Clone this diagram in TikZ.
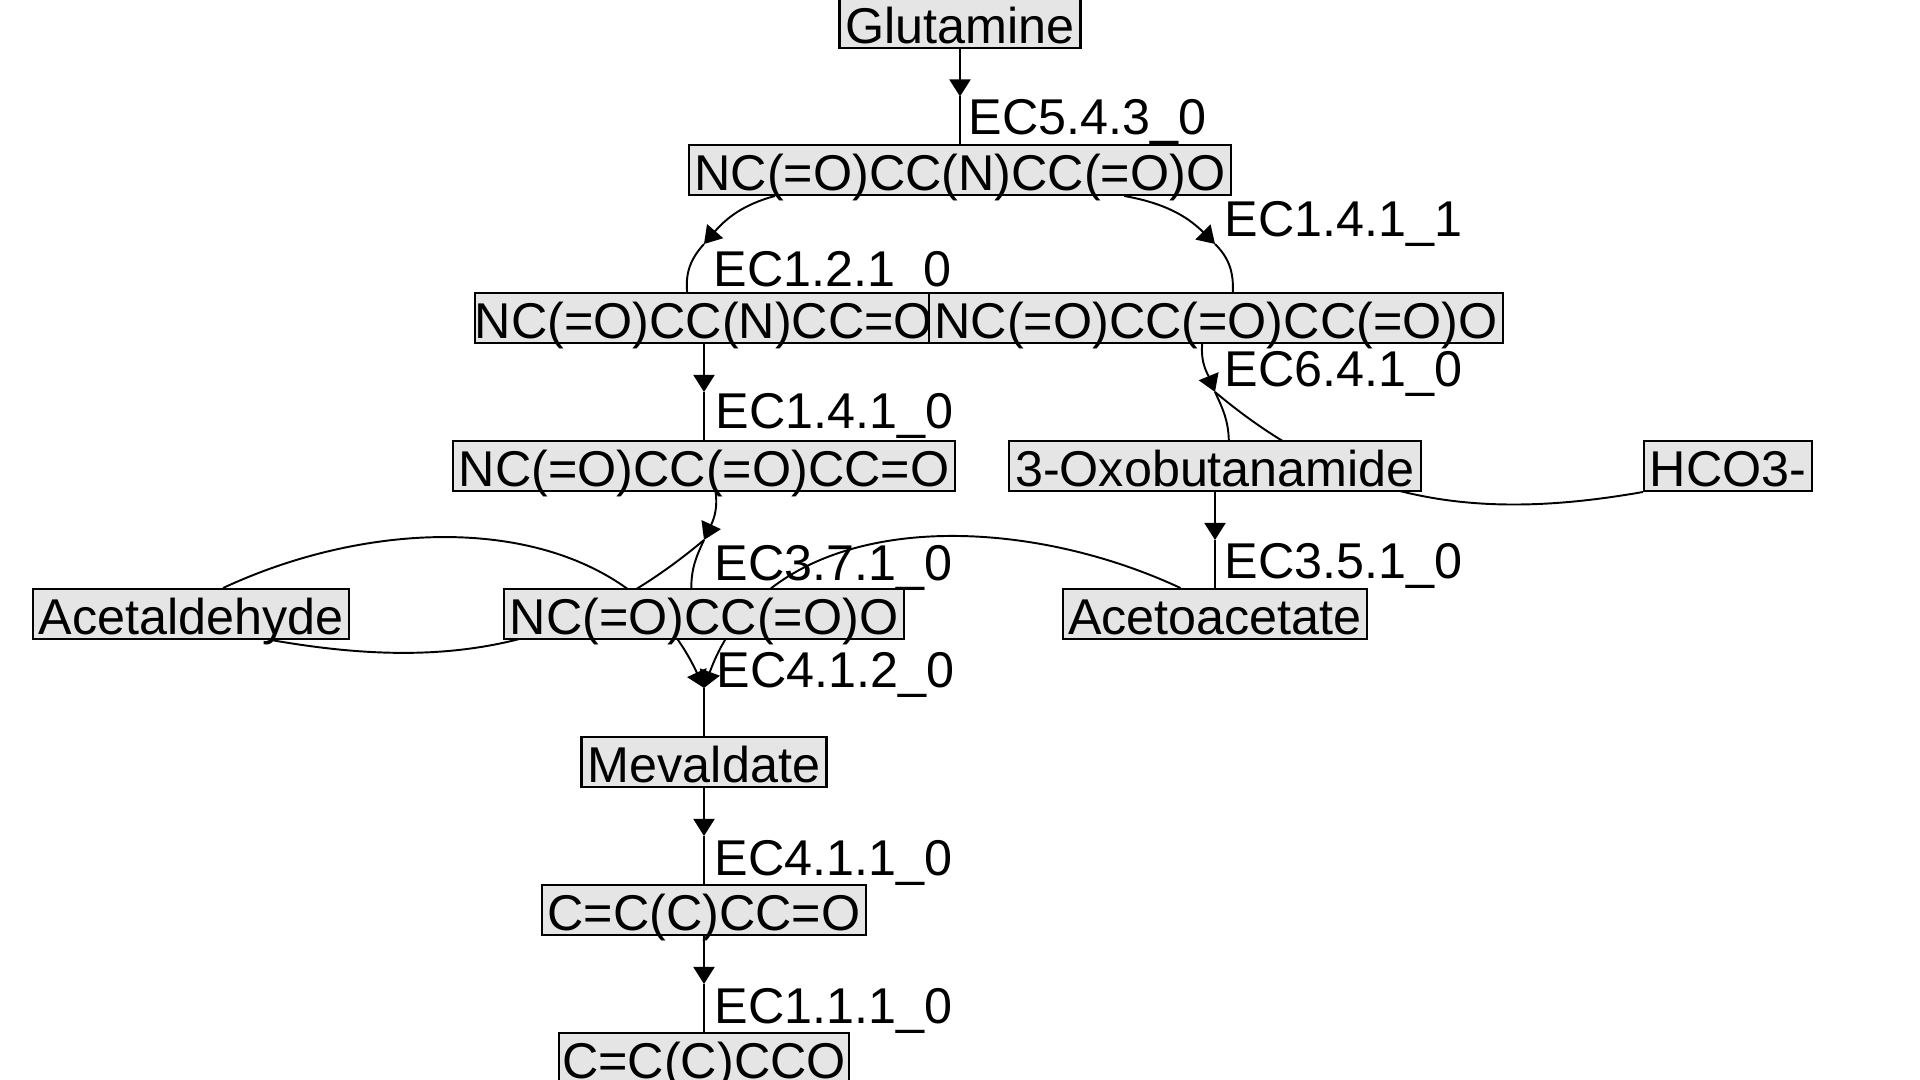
\documentclass[tikz,border=0pt]{standalone}
\usepackage{fontspec}
\setmainfont{Liberation Sans}
\usetikzlibrary{arrows.meta,backgrounds}

\tikzset{
  mol/.style={draw, line width=0.7pt, fill=black!10, inner xsep=0pt, inner ysep=0pt,
    text height=0.45cm, text depth=0.045cm, font=\fontsize{14.3pt}{17pt}\selectfont},
  eclabel/.style={inner sep=0pt, anchor=base west, font=\fontsize{14.3pt}{17pt}\selectfont},
  flux/.style={line width=0.55pt},
  tip/.style={-{Triangle[length=0.17cm,width=0.21cm]}},
}

\begin{document}
\begin{tikzpicture}[x=0.01cm, y=-0.01cm]
		\useasboundingbox (0,0) rectangle (1920,1080);

		\node[mol, minimum width=2.41cm] (glu) at (960,23) {Glutamine};
		\node[mol, minimum width=5.42cm] (nccn) at (960,170) {NC(=O)CC(N)CC(=O)O};
		\node[mol, minimum width=4.50cm] (ncald) at (704,318) {NC(=O)CC(N)CC=O};
		\node[mol, minimum width=5.74cm] (ncdiox) at (1216,318) {NC(=O)CC(=O)CC(=O)O};
		\node[mol, minimum width=5.02cm] (ncoxal) at (704,466) {NC(=O)CC(=O)CC=O};
		\node[mol, minimum width=4.12cm] (oxobut) at (1215,466) {3-Oxobutanamide};
		\node[mol, minimum width=1.68cm] (hco) at (1728,466) {HCO3-};
		\node[mol, minimum width=3.16cm] (acald) at (191,614) {Acetaldehyde};
		\node[mol, minimum width=4.00cm] (malam) at (704,614) {NC(=O)CC(=O)O};
		\node[mol, minimum width=3.04cm] (acac) at (1215,614) {Acetoacetate};
		\node[mol, minimum width=2.45cm] (meval) at (704,762) {Mevaldate};
		\node[mol, minimum width=3.24cm] (prenal) at (704,910) {C=C(C)CC=O};
		\node[mol, minimum width=2.90cm] (prenol) at (704,1058) {C=C(C)CCO};

		\coordinate (ec543) at (960,96.5);
		\coordinate (ec121) at (704,244);
		\coordinate (ec1411) at (1215,244);
		\coordinate (ec1410) at (704,392);
		\coordinate (ec641) at (1215,392);
		\coordinate (ec371) at (704,540);
		\coordinate (ec351) at (1215,540);
		\coordinate (ec412) at (704,688);
		\coordinate (ec411) at (704,836);
		\coordinate (ec111) at (704,984);

		\begin{scope}[on background layer]
		\fill[white] (0,0) rectangle (1920,1080);

		\node[eclabel] (t543) at (968,135) {EC5.4.3\_0};
		\node[eclabel] (t121) at (713,287) {EC1.2.1\_0};
		\node[eclabel] (t1411) at (1224,237) {EC1.4.1\_1};
		\node[eclabel] (t1410) at (715,429) {EC1.4.1\_0};
		\node[eclabel] (t641) at (1224,387) {EC6.4.1\_0};
		\node[eclabel] (t371) at (714,581) {EC3.7.1\_0};
		\node[eclabel] (t351) at (1224,579) {EC3.5.1\_0};
		\node[eclabel] (t412) at (716,688) {EC4.1.2\_0};
		\node[eclabel] (t411) at (714,876) {EC4.1.1\_0};
		\node[eclabel] (t111) at (714,1024) {EC1.1.1\_0};

		\draw[flux, tip] (glu) -- (ec543);
		\draw[flux] (ec543) -- (nccn);
		\draw[flux, tip] (nccn.188) to[out=195, in=49] (ec121);
		\draw[flux] (ec121) to[out=228, in=95] (ncald.123);
		\draw[flux, tip] (nccn.-9) to[out=-10, in=135] (ec1411);
		\draw[flux] (ec1411) to[out=-45, in=88] (ncdiox.57);
		\draw[flux, tip] (ncald) -- (ec1410);
		\draw[flux] (ec1410) -- (ncoxal);
		\draw[flux, tip] (ncdiox.242) to[out=265, in=112] (ec641);
		\draw[flux] (ec641) to[out=-65, in=92] (oxobut.62);
		\draw[flux] (ec641) to[out=-40, in=190] (hco.197);
		\draw[flux, tip] (ncoxal.-66) to[out=-82, in=65] (ec371);
		\draw[flux] (ec371) to[out=245, in=90] (malam.116);
		\draw[flux] (ec371) to[out=220, in=-10] (acald.-18);
		\draw[flux, tip] (oxobut) -- (ec351);
		\draw[flux] (ec351) -- (acac);
		\draw[flux, tip] (acald.39) to[out=25, in=115] (ec412);
		\draw[flux, tip] (acac.143) to[out=155, in=70] (ec412);
		\draw[flux] (ec412) -- (meval);
		\draw[flux, tip] (meval) -- (ec411);
		\draw[flux] (ec411) -- (prenal);
		\draw[flux, tip] (prenal) -- (ec111);
		\draw[flux] (ec111) -- (prenol);
		\end{scope}
\end{tikzpicture}
\end{document}
